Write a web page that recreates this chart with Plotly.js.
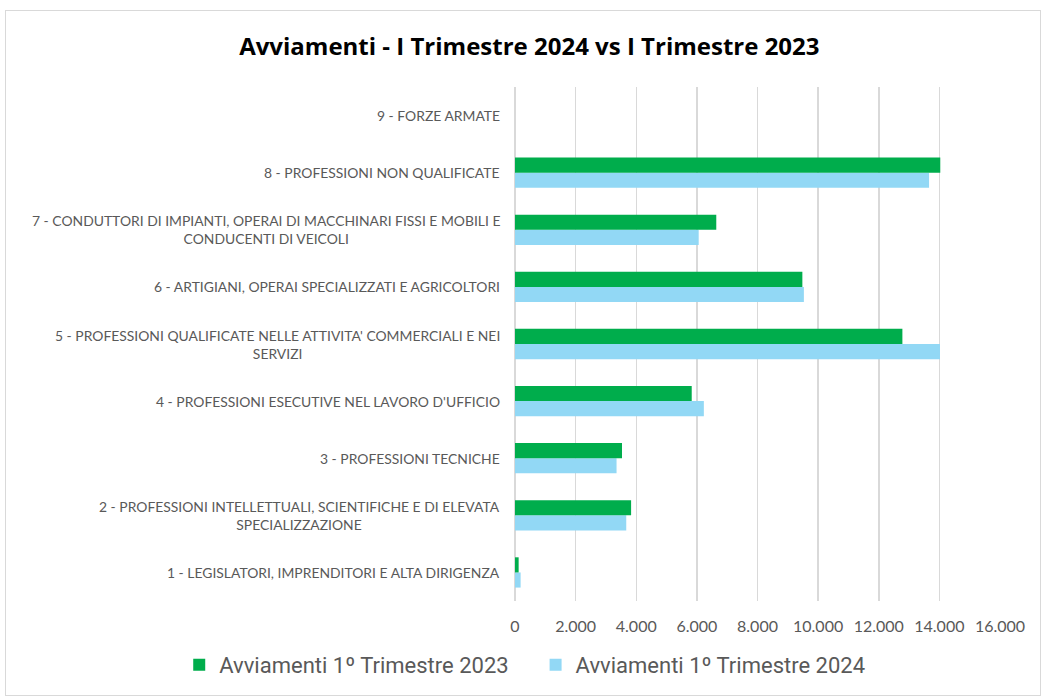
<!DOCTYPE html>
<html><head><meta charset="utf-8">
<script src="https://cdn.plot.ly/plotly-3.0.1.min.js"></script>
<style>
html,body{margin:0;padding:0;background:#fff;}
#frame{position:absolute;left:5px;top:10px;width:1034px;height:684px;border:1px solid #d9d9d9;pointer-events:none;z-index:10;}
#chart{position:absolute;left:0;top:0;width:1042px;height:697px;}
</style></head>
<body>
<div id="chart"></div>
<div id="frame"></div>
<script>
const categories = [
  "1 - LEGISLATORI, IMPRENDITORI E ALTA DIRIGENZA",
  "2 - PROFESSIONI INTELLETTUALI, SCIENTIFICHE E DI ELEVATA<br>SPECIALIZZAZIONE",
  "3 - PROFESSIONI TECNICHE",
  "4 - PROFESSIONI ESECUTIVE NEL LAVORO D'UFFICIO",
  "5 - PROFESSIONI QUALIFICATE NELLE ATTIVITA' COMMERCIALI E NEI<br>SERVIZI",
  "6 - ARTIGIANI, OPERAI SPECIALIZZATI E AGRICOLTORI",
  "7 - CONDUTTORI DI IMPIANTI, OPERAI DI MACCHINARI FISSI E MOBILI E<br>CONDUCENTI DI VEICOLI",
  "8 - PROFESSIONI NON QUALIFICATE",
  "9 - FORZE ARMATE"
];
const avv2023 = [120, 3830, 3530, 5830, 12780, 9480, 6640, 14030, 0];
const avv2024 = [185, 3670, 3350, 6230, 14020, 9530, 6060, 13660, 0];
const name2023 = "Avviamenti 1º Trimestre 2023";
const name2024 = "Avviamenti 1º Trimestre 2024";
const tickVals = [0, 2000, 4000, 6000, 8000, 10000, 12000, 14000, 16000];

const labelFont = {family: "Lato, 'Liberation Sans', sans-serif", size: 13.9, color: "#595959"};
const legendFont = {family: "Roboto, sans-serif", size: 22, color: "#595959"};

const traces = [
  {type: "bar", orientation: "h", name: name2024, y: categories, x: avv2024,
   marker: {color: "#92d8f5"}, hoverinfo: "x", legend: "legend2"},
  {type: "bar", orientation: "h", name: name2023, y: categories, x: avv2023,
   marker: {color: "#00ad4c"}, hoverinfo: "x", legend: "legend"}
];

const annotations = categories.map(c => ({
  xref: "paper", yref: "y", x: 0, y: c, xanchor: "right", yanchor: "middle",
  xshift: -13, text: c, showarrow: false, align: "center", font: labelFont
}));

const layout = {
  width: 1042, height: 697,
  margin: {l: 515, r: 42, t: 87, b: 96, autoexpand: false},
  paper_bgcolor: "#ffffff", plot_bgcolor: "#ffffff",
  separators: ",.",
  title: {text: "<b>Avviamenti - I Trimestre 2024 vs I Trimestre 2023</b>",
          font: {family: "'Open Sans', sans-serif", size: 24, color: "#000"},
          x: 0.508, xanchor: "center", y: 0.933, yanchor: "middle", xref: "container", yref: "container"},
  barmode: "group", bargap: 0.47, bargroupgap: 0,
  xaxis: {range: [0, 16000], tickvals: tickVals, tickformat: ",d",
          showgrid: true, gridcolor: "#d9d9d9", gridwidth: 1.5,
          zeroline: true, zerolinecolor: "#d9d9d9", zerolinewidth: 1.5,
          showline: false, ticks: "", fixedrange: true, ticklabelstandoff: 14,
          tickfont: {family: "Lato, 'Liberation Sans', sans-serif", size: 16, color: "#595959"}},
  yaxis: {type: "category", categoryorder: "array", categoryarray: categories,
          showticklabels: false, showgrid: false, zeroline: false, showline: false, ticks: ""},
  annotations: annotations,
  showlegend: true,
  legend: {xref: "container", yref: "container", x: 0.172, xanchor: "left", y: 0.046, yanchor: "middle",
           font: legendFont, bgcolor: "rgba(0,0,0,0)"},
  legend2: {xref: "container", yref: "container", x: 0.514, xanchor: "left", y: 0.046, yanchor: "middle",
           font: legendFont, bgcolor: "rgba(0,0,0,0)"}
};

Plotly.newPlot("chart", traces, layout, {displayModeBar: false, staticPlot: true});
</script>
</body></html>
